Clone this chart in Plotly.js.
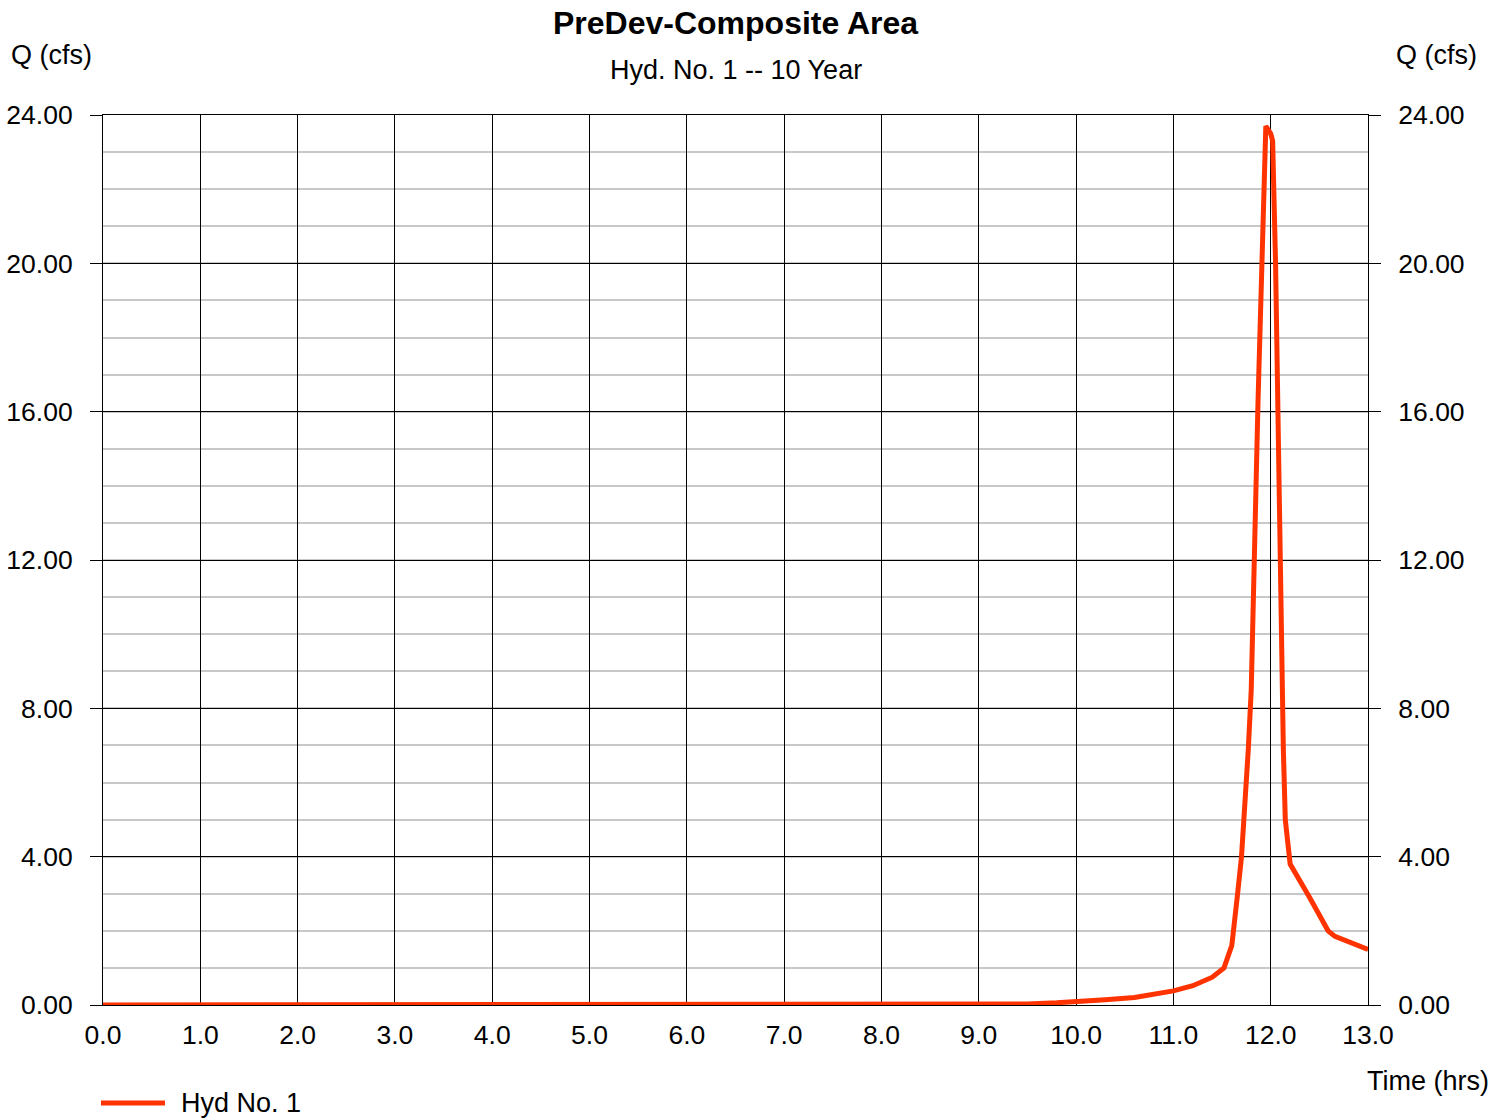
<!DOCTYPE html>
<html>
<head>
<meta charset="utf-8">
<script src="https://cdn.plot.ly/plotly-3.0.1.min.js"></script>
<style>html,body{margin:0;padding:0;background:#fff;}#chart{width:1507px;height:1118px;}</style>
</head>
<body>
<div id="chart"></div>
<script>
// Time (hrs)
const timeHrs = [0.0, 1.0, 2.0, 3.0, 4.0, 5.0, 6.0, 7.0, 8.0, 9.0, 9.2, 9.5, 9.8, 10.0, 10.3, 10.6, 10.9, 11.0, 11.2, 11.4, 11.52, 11.6, 11.66, 11.7, 11.77, 11.8, 11.87, 11.91, 11.95, 12.0, 12.02, 12.05, 12.07, 12.11, 12.13, 12.15, 12.2, 12.4, 12.59, 12.66, 13.0];
// Flow Q (cfs)
const flowCfs = [0, 0, 0, 0, 0, 0, 0, 0, 0, 0, 0.01, 0.03, 0.06, 0.08, 0.14, 0.2, 0.32, 0.38, 0.52, 0.75, 1.0, 1.6, 3.0, 4.0, 6.9, 8.5, 16.3, 20.0, 23.7, 23.5, 23.3, 20.0, 16.3, 9.0, 6.9, 5.0, 3.8, 2.9, 2.0, 1.85, 1.5];
const seriesName = "Hyd No. 1";
const xTickVals = [0,1,2,3,4,5,6,7,8,9,10,11,12,13];
const yTickVals = [0,4,8,12,16,20,24];

const FONT = "Liberation Sans, Arial, Helvetica, sans-serif";
const lineColor = "#ff3300";
const TS = 26.5;

const traces = [
  {x: timeHrs, y: flowCfs, type: "scatter", mode: "lines", name: seriesName,
   line: {color: lineColor, width: 5}, xaxis: "x", yaxis: "y", showlegend: false},
  {x: timeHrs, y: flowCfs, type: "scatter", mode: "lines", showlegend: false,
   hoverinfo: "skip", line: {color: "rgba(0,0,0,0)", width: 0}, xaxis: "x", yaxis: "y2"}
];

const yCommon = {
  range: [0, 24], tickvals: yTickVals, tickformat: ".2f",
  ticks: "outside", ticklen: 12, tickcolor: "#000", tickwidth: 1,
  tickfont: {family: FONT, size: TS, color: "#000"}, ticklabelstandoff: 12,
  zeroline: false, fixedrange: true
};

const layout = {
  width: 1507, height: 1118,
  margin: {l: 103, r: 139, t: 115, b: 113, autoexpand: false},
  paper_bgcolor: "#fff", plot_bgcolor: "#fff",
  font: {family: FONT, color: "#000"},
  showlegend: false,
  xaxis: {
    range: [0, 13], tickvals: xTickVals, tickformat: ".1f",
    showgrid: true, gridcolor: "#000", gridwidth: 1,
    showline: true, linecolor: "#000", linewidth: 1, mirror: true,
    ticks: "", tickfont: {family: FONT, size: TS, color: "#000"}, ticklabelstandoff: 6,
    zeroline: false, fixedrange: true, automargin: false
  },
  yaxis: Object.assign({}, yCommon, {
    side: "left", showgrid: true, gridcolor: "#000", gridwidth: 1,
    showline: true, linecolor: "#000", linewidth: 1, automargin: false,
    minor: {dtick: 1, showgrid: true, gridcolor: "#c8c8c8", gridwidth: 2, ticks: ""}
  }),
  yaxis2: Object.assign({}, yCommon, {
    side: "right", overlaying: "y", showgrid: false, automargin: false,
    showline: true, linecolor: "#000", linewidth: 1
  }),
  shapes: [
    {type: "line", xref: "paper", yref: "paper", x0: -0.0016, x1: 0.049, y0: -0.1101, y1: -0.1101,
     line: {color: lineColor, width: 5}}
  ],
  annotations: [
    {text: "<b>PreDev-Composite Area</b>", xref: "paper", yref: "paper", x: 0.5, y: 1, yshift: 92,
     xanchor: "center", yanchor: "middle", showarrow: false, font: {family: FONT, size: 32, color: "#000"}},
    {text: "Hyd. No. 1 -- 10 Year", xref: "paper", yref: "paper", x: 0.5, y: 1, yshift: 45,
     xanchor: "center", yanchor: "middle", showarrow: false, font: {family: FONT, size: 27, color: "#000"}},
    {text: "Q (cfs)", xref: "paper", yref: "paper", x: 0, xshift: -94, y: 1, yshift: 60,
     xanchor: "left", yanchor: "middle", showarrow: false, font: {family: FONT, size: 27, color: "#000"}},
    {text: "Q (cfs)", xref: "paper", yref: "paper", x: 1, xshift: 111, y: 1, yshift: 60,
     xanchor: "right", yanchor: "middle", showarrow: false, font: {family: FONT, size: 27, color: "#000"}},
    {text: "Time (hrs)", xref: "paper", yref: "paper", x: 1, xshift: 123, y: 0, yshift: -76,
     xanchor: "right", yanchor: "middle", showarrow: false, font: {family: FONT, size: 27, color: "#000"}},
    {text: seriesName, xref: "paper", yref: "paper", x: 0, xshift: 76, y: 0, yshift: -98,
     xanchor: "left", yanchor: "middle", showarrow: false, font: {family: FONT, size: 27, color: "#000"}}
  ]
};

Plotly.newPlot("chart", traces, layout, {displayModeBar: false, staticPlot: true});
</script>
</body>
</html>
